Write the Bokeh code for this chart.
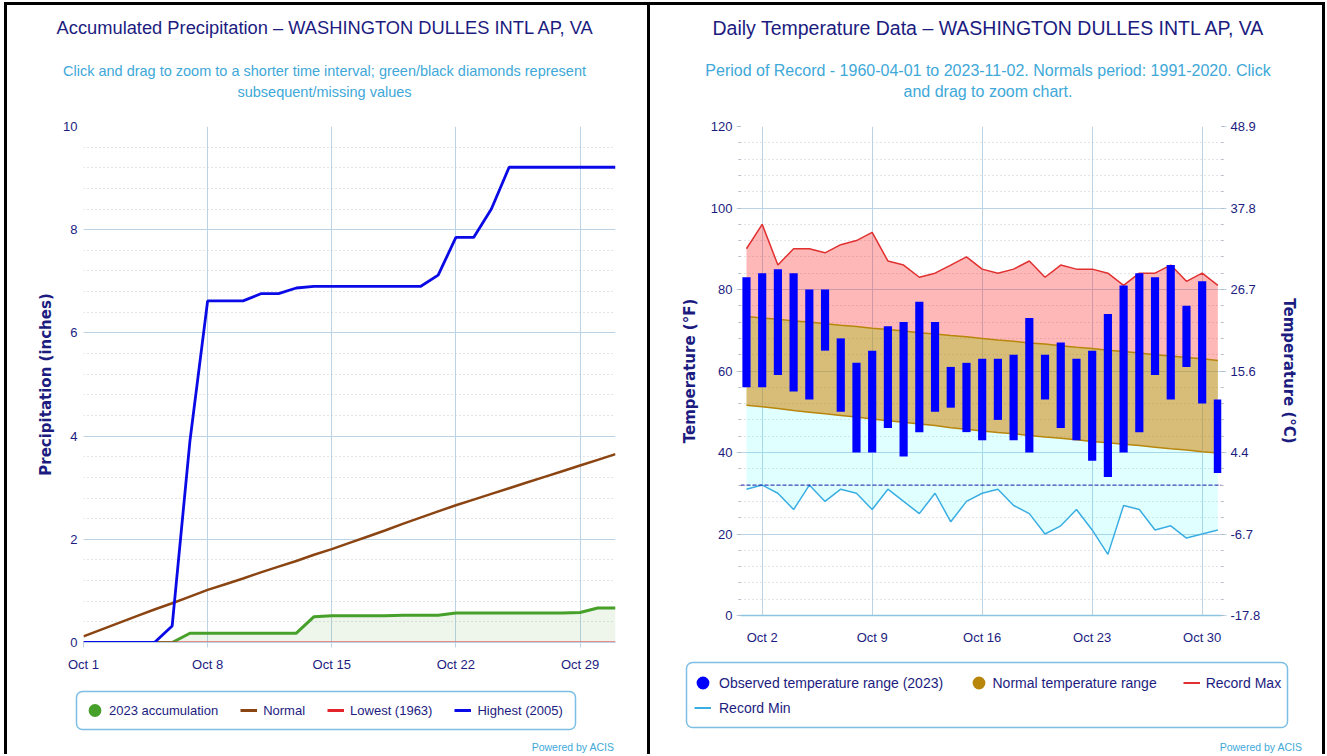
from bokeh.plotting import figure
from bokeh.models import (Range1d, FixedTicker, SingleIntervalTicker, LinearAxis, Label,
                          Legend, LegendItem, Span, BoxAnnotation)
from bokeh.layouts import row, column
from bokeh.embed import file_html
from bokeh.resources import INLINE

# ---------------- data ----------------
day_of_month = [1, 2, 3, 4, 5, 6, 7, 8, 9, 10, 11, 12, 13, 14, 15, 16,
                17, 18, 19, 20, 21, 22, 23, 24, 25, 26, 27, 28, 29, 30, 31]

precip_tick_days = [1, 8, 15, 22, 29]
precip_tick_labels = ["Oct 1", "Oct 8", "Oct 15", "Oct 22", "Oct 29"]

acc_2023 = [0, 0, 0, 0, 0, 0, 0.18, 0.18, 0.18, 0.18, 0.18, 0.18, 0.18, 0.50, 0.52, 0.52,
            0.52, 0.52, 0.53, 0.53, 0.53, 0.57, 0.57, 0.57, 0.57, 0.57, 0.57, 0.57, 0.58, 0.67, 0.67]
acc_normal = [0.12, 0.25, 0.38, 0.51, 0.64, 0.76, 0.89, 1.02, 1.13, 1.24, 1.36, 1.47, 1.58, 1.70,
              1.81, 1.93, 2.05, 2.17, 2.30, 2.42, 2.54, 2.66, 2.77, 2.88, 2.99, 3.10, 3.21, 3.32,
              3.43, 3.54, 3.65]
acc_lowest_1963 = [0, 0, 0, 0, 0, 0, 0, 0, 0, 0, 0, 0, 0, 0, 0, 0,
                   0, 0, 0, 0, 0, 0, 0, 0, 0, 0, 0, 0, 0, 0, 0]
acc_highest_2005 = [0, 0, 0, 0, 0, 0.32, 3.9, 6.62, 6.62, 6.62, 6.76, 6.76, 6.87, 6.90, 6.90,
                    6.90, 6.90, 6.90, 6.90, 6.90, 7.12, 7.85, 7.85, 8.40, 9.21, 9.21, 9.21, 9.21,
                    9.21, 9.21, 9.21]

temp_tick_days = [2, 9, 16, 23, 30]
temp_tick_labels = ["Oct 2", "Oct 9", "Oct 16", "Oct 23", "Oct 30"]

obs_high = [83, 84, 85, 84, 80, 80, 68, 62, 65, 71, 72, 77, 72, 61, 62, 63,
            63, 64, 73, 64, 67, 63, 65, 74, 81, 84, 83, 86, 76, 82, 53]
obs_low = [56, 56, 59, 55, 53, 65, 50, 40, 40, 46, 39, 45, 50, 51, 45, 43,
           48, 43, 40, 53, 46, 43, 38, 34, 40, 45, 59, 53, 61, 52, 35]
normal_high = [73.4, 73.0, 72.7, 72.3, 72.0, 71.6, 71.2, 70.9, 70.5, 70.2, 69.8, 69.4, 69.1,
               68.7, 68.4, 68.0, 67.6, 67.3, 66.9, 66.6, 66.2, 65.8, 65.5, 65.1, 64.8, 64.4,
               64.0, 63.7, 63.3, 63.0, 62.6]
normal_low = [51.6, 51.2, 50.8, 50.3, 49.9, 49.5, 49.1, 48.7, 48.2, 47.8, 47.4, 47.0, 46.6,
              46.1, 45.7, 45.3, 44.9, 44.6, 44.2, 43.8, 43.5, 43.1, 42.7, 42.4, 42.0, 41.7,
              41.3, 40.9, 40.6, 40.2, 39.9]
record_max = [90, 96, 86, 90, 90, 89, 91, 92, 94, 87, 86, 83, 84, 86, 88, 85,
              84, 85, 87, 83, 86, 85, 85, 84, 81, 84, 84, 86, 82, 84, 81]
record_min = [31, 32, 30, 26, 32, 28, 31, 30, 26, 31, 28, 25, 30, 23, 28, 30,
              31, 27, 25, 20, 22, 26, 21, 15, 27, 26, 21, 22, 19, 20, 21]

temp_ticks_f = [0, 20, 40, 60, 80, 100, 120]
temp_ticks_c_labels = ["-17.8", "-6.7", "4.4", "15.6", "26.7", "37.8", "48.9"]
freezing_f = 32

# ---------------- styles ----------------
FONT = "Liberation Sans"
BOLD_FONT = "DejaVu Sans"
NAVY = "#1c1c80"
SUBC = "#3ea8d8"
GRID = "#bcd3e6"
MINOR = "#c2cad4"
LEG_BORDER = "#7dbfe4"
GREEN = "#46a02a"
BROWN = "#8b4513"
RED = "#e3242b"
BLUE = "#0a0ae6"
GOLD = "#b8860b"
RMAX = "#e0302f"
RMIN = "#3aaee2"
OFF = [-1000]   # legend-key renderers sit outside the visible range


def no_align(p):
    if "frame_align" in p.properties():
        p.frame_align = False
    return p


def blank_fig(width, height, x0, x1, y_top, y_bottom):
    # helper canvas whose frame is the whole canvas; data units = page pixels
    p = figure(width=width, height=height, x_range=Range1d(x0, x1),
               y_range=Range1d(y_bottom, y_top), output_backend="svg", toolbar_location=None,
               x_axis_location=None, y_axis_location=None, min_border=0,
               min_border_left=0, min_border_right=0, min_border_top=0, min_border_bottom=0,
               outline_line_color=None, background_fill_color=None, border_fill_color=None)
    p.grid.visible = False
    return no_align(p)


def text(p, x, y, s, size, color, align="center"):
    p.add_layout(Label(x=x, y=y, text=s, text_align=align, text_baseline="alphabetic",
                       text_font=FONT, text_font_size=size, text_color=color))


def box(p, l, r, t, b):
    kw = dict(left=l, right=r, top=t, bottom=b, fill_color=None, fill_alpha=0,
              line_color=LEG_BORDER, line_width=1.5, line_alpha=1.0)
    if "border_radius" in BoxAnnotation.properties():
        kw["border_radius"] = 6
    p.add_layout(BoxAnnotation(**kw))


def style_yaxis(ax, label, tick_out, standoff, label_standoff, minor_out):
    ax.axis_label = label
    ax.axis_label_text_font = BOLD_FONT
    ax.axis_label_text_font_style = "bold"
    ax.axis_label_text_font_size = "15px"
    ax.axis_label_text_color = NAVY
    ax.axis_label_standoff = label_standoff
    ax.major_label_text_font = FONT
    ax.major_label_text_font_size = "13px"
    ax.major_label_text_color = NAVY
    ax.major_label_standoff = standoff
    ax.axis_line_color = None
    ax.major_tick_in = 0
    ax.major_tick_out = tick_out
    ax.major_tick_line_color = GRID if tick_out else None
    ax.minor_tick_in = 0
    ax.minor_tick_out = minor_out
    ax.minor_tick_line_color = "#a8b0bc" if minor_out else None


def style_xaxis(ax, ticks, labels, tick_out, standoff, line_color, line_width):
    ax.ticker = FixedTicker(ticks=ticks)
    ax.major_label_overrides = dict(zip(ticks, labels))
    ax.major_label_text_font = FONT
    ax.major_label_text_font_size = "13px"
    ax.major_label_text_color = NAVY
    ax.major_label_standoff = standoff
    ax.axis_line_color = line_color
    ax.axis_line_width = line_width
    ax.major_tick_in = 0
    ax.major_tick_out = tick_out
    ax.major_tick_line_color = GRID if tick_out else None
    ax.minor_tick_line_color = None


def style_legend(leg, size, spacing, standoff, gh):
    leg.padding = 0
    leg.margin = 0
    leg.spacing = spacing
    leg.label_standoff = standoff
    leg.glyph_width = 17
    leg.glyph_height = gh
    leg.label_height = gh
    leg.label_text_font = FONT
    leg.label_text_font_size = size
    leg.label_text_color = NAVY
    leg.background_fill_alpha = 0
    leg.border_line_color = None


def main_fig(width, height, xr, yr, mb):
    p = figure(width=width, height=height, x_range=xr, y_range=yr, output_backend="svg",
               toolbar_location=None, min_border_left=mb[0], min_border_right=mb[1],
               min_border_top=mb[2], min_border_bottom=mb[3], outline_line_color=None,
               background_fill_color="white", border_fill_color=None)
    return no_align(p)


# ================= left: accumulated precipitation =================
hdrL = blank_fig(650, 110, 0, 650, 0, 110)
text(hdrL, 325, 27, "Accumulated Precipitation \u2013 WASHINGTON DULLES INTL AP, VA", "18.3px", NAVY)
text(hdrL, 324, 70, "Click and drag to zoom to a shorter time interval; green/black diamonds represent",
     "14.5px", SUBC)
text(hdrL, 324, 91, "subsequent/missing values", "14.5px", SUBC)

mainL = main_fig(650, 572, Range1d(1, 31), Range1d(0, 10), (83, 35, 16, 40))
yt = SingleIntervalTicker(interval=2, num_minor_ticks=5)
mainL.yaxis.ticker = yt
mainL.ygrid.ticker = yt
style_yaxis(mainL.yaxis[0], "Precipitation (inches)", 0, 6, 5, 0)
style_xaxis(mainL.xaxis[0], precip_tick_days, precip_tick_labels, 5, 9, GRID, 1)
mainL.xgrid.ticker = mainL.xaxis[0].ticker
mainL.xgrid.grid_line_color = GRID
mainL.ygrid.grid_line_color = GRID
mainL.ygrid.minor_grid_line_color = MINOR
mainL.ygrid.minor_grid_line_dash = "1 3"

mainL.varea(x=day_of_month, y1=0, y2=acc_2023, fill_color=GREEN, fill_alpha=0.09)
mainL.line(day_of_month, acc_2023, line_color=GREEN, line_width=3)
mainL.line(day_of_month, acc_normal, line_color=BROWN, line_width=2.5)
mainL.line(day_of_month, acc_lowest_1963, line_color=RED, line_width=2)
mainL.line(day_of_month, acc_highest_2005, line_color=BLUE, line_width=2.8)

ftrL = blank_fig(650, 72, 0, 650, 682, 754)
kL1 = ftrL.scatter(x=OFF, y=OFF, marker="circle", size=12, fill_color=GREEN, line_color=GREEN, line_width=6)
kL2 = ftrL.line(x=OFF, y=OFF, line_color=BROWN, line_width=3)
kL3 = ftrL.line(x=OFF, y=OFF, line_color=RED, line_width=3)
kL4 = ftrL.line(x=OFF, y=OFF, line_color=BLUE, line_width=3)
legL = Legend(items=[LegendItem(label="2023 accumulation", renderers=[kL1]),
                     LegendItem(label="Normal", renderers=[kL2]),
                     LegendItem(label="Lowest (1963)", renderers=[kL3]),
                     LegendItem(label="Highest (2005)", renderers=[kL4])],
              location=(86, 35), orientation="horizontal")
style_legend(legL, "13px", 22, 6, 18)
ftrL.add_layout(legL)
box(ftrL, 76, 575, 691, 729)
text(ftrL, 614, 746, "Powered by ACIS", "10.5px", SUBC, align="right")

colL = column(hdrL, mainL, ftrL)
colL.styles = {"background-color": "white",
               "box-shadow": "inset 4px 0 0 0 #fff, inset 0 2px 0 0 #fff, "
                             "inset 7px 5px 0 0 #000, inset -3px 0 0 0 #000"}

# ================= right: daily temperature =================
hdrR = blank_fig(675, 110, 650, 1325, 0, 110)
text(hdrR, 988.5, 27, "Daily Temperature Data \u2013 WASHINGTON DULLES INTL AP, VA", "19.5px", NAVY)
text(hdrR, 987.5, 70, "Period of Record - 1960-04-01 to 2023-11-02. Normals period: 1991-2020. Click",
     "16px", SUBC)
text(hdrR, 987.5, 91, "and drag to zoom chart.", "16px", SUBC)

mainR = main_fig(675, 545, Range1d(0.62, 31.23), Range1d(0, 120), (90, 104, 16, 40))
tt = SingleIntervalTicker(interval=20, num_minor_ticks=5)
mainR.yaxis.ticker = tt
mainR.ygrid.ticker = tt
style_yaxis(mainR.yaxis[0], "Temperature (\u00b0F)", 4, 4, 9, 2)
style_xaxis(mainR.xaxis[0], temp_tick_days, temp_tick_labels, 0, 14, "#8cc4e2", 1.5)
mainR.xgrid.ticker = mainR.xaxis[0].ticker
mainR.xgrid.grid_line_color = GRID
mainR.ygrid.grid_line_color = GRID
mainR.ygrid.minor_grid_line_color = MINOR
mainR.ygrid.minor_grid_line_dash = "1 3"

right_axis = LinearAxis(ticker=tt, major_label_overrides=dict(zip(temp_ticks_f, temp_ticks_c_labels)))
style_yaxis(right_axis, "Temperature (\u00b0C)", 5, 4, 17, 2)
mainR.add_layout(right_axis, "right")

mainR.varea(x=day_of_month, y1=record_min, y2=normal_low, fill_color="#00ffff", fill_alpha=0.12)
mainR.varea(x=day_of_month, y1=normal_low, y2=normal_high, fill_color=GOLD, fill_alpha=0.55)
mainR.varea(x=day_of_month, y1=normal_high, y2=record_max, fill_color="#ff0000", fill_alpha=0.28)
mainR.line(day_of_month, normal_high, line_color=GOLD, line_width=1.5)
mainR.line(day_of_month, normal_low, line_color=GOLD, line_width=1.5)
mainR.line(day_of_month, record_max, line_color=RMAX, line_width=1.5)
mainR.line(day_of_month, record_min, line_color=RMIN, line_width=1.5)
mainR.add_layout(Span(location=freezing_f, dimension="width", line_color="#1a1aa8",
                      line_dash="4 2", line_width=1))
mainR.vbar(x=day_of_month, bottom=obs_low, top=obs_high, width=0.52, fill_color="#0000ff",
           line_color=None)

ftrR = blank_fig(675, 99, 650, 1325, 655, 754)
kR1 = ftrR.scatter(x=OFF, y=OFF, marker="circle", size=12, fill_color="#0000ff", line_color="#0000ff", line_width=6)
kR2 = ftrR.scatter(x=OFF, y=OFF, marker="circle", size=12, fill_color=GOLD, line_color=GOLD, line_width=6)
kR3 = ftrR.line(x=OFF, y=OFF, line_color=RMAX, line_width=2)
kR4 = ftrR.line(x=OFF, y=OFF, line_color=RMIN, line_width=2)
legA = Legend(items=[LegendItem(label="Observed temperature range (2023)", renderers=[kR1]),
                     LegendItem(label="Record Min", renderers=[kR4])],
              location=(44, 34), orientation="vertical")
style_legend(legA, "14px", 0, 8, 25)
legB = Legend(items=[LegendItem(label="Normal temperature range", renderers=[kR2]),
                     LegendItem(label="Record Max", renderers=[kR3])],
              location=(319.5, 59), orientation="horizontal")
style_legend(legB, "14px", 26, 6, 25)
ftrR.add_layout(legA)
ftrR.add_layout(legB)
box(ftrR, 686, 1287, 662, 727)
text(ftrR, 1302, 746, "Powered by ACIS", "10.5px", SUBC, align="right")

colR = column(hdrR, mainR, ftrR)
colR.styles = {"background-color": "white",
               "box-shadow": "inset 0 2px 0 0 #fff, inset 0 5px 0 0 #000, inset -3px 0 0 0 #000"}

layout = row(colL, colR)
open("out.html", "w").write(file_html(layout, INLINE))
